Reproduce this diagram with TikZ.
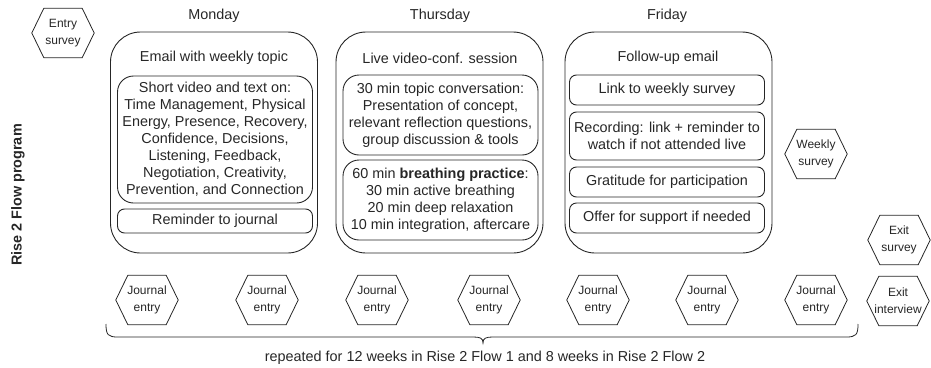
\documentclass[tikz,border=0pt]{standalone}
\usepackage{fontspec}
\setmainfont{Liberation Sans}
\usepackage{tikz}
\usetikzlibrary{positioning,calc}
\usepackage{xcolor}
\definecolor{ink}{HTML}{262626}
\newcommand{\bodysize}{\fontsize{14.4}{17}\selectfont}
\newcommand{\hexsize}{\fontsize{12}{17}\selectfont}
\tikzset{
  daybox/.style={draw=ink, rounded corners=30pt, line width=0.9pt, minimum width=207pt, minimum height=221pt, inner sep=0pt},
  topicbox/.style={draw=ink, rounded corners=16pt, line width=0.9pt, align=center, minimum width=195pt, inner sep=0pt, text=ink, font=\bodysize},
  itembox/.style={topicbox, rounded corners=7pt},
  plain/.style={text=ink, font=\bodysize, inner sep=0pt},
  hexbox/.style={minimum width=62pt, minimum height=49pt, inner sep=0pt, align=center, text=ink, font=\hexsize,
    append after command={\pgfextra{\draw[line width=0.8pt, draw=ink] (\tikzlastnode.west) -- ([xshift=12pt]\tikzlastnode.north west) -- ([xshift=-12pt]\tikzlastnode.north east) -- (\tikzlastnode.east) -- ([xshift=-12pt]\tikzlastnode.south east) -- ([xshift=12pt]\tikzlastnode.south west) -- cycle;}}}
}
\begin{document}
\begin{tikzpicture}[x=1pt, y=-1pt]
  \useasboundingbox (0,0) rectangle (931,367);
  % side label and surveys
  \node[plain, rotate=90, font=\bodysize\bfseries] (prog) at (18,195) {Rise 2 Flow program};
  \node[hexbox] (entry) at (63,33) {Entry\\survey};
  \node[hexbox] (weekly) at (816,154) {Weekly\\survey};
  \node[hexbox] (exits) at (899,240) {Exit\\survey};
  \node[hexbox] (exiti) at (898,301) {Exit\\interview};

  % Monday
  \node[plain] (mon) at (214,16) {Monday};
  \node[daybox] (monbox) at (214,142.5) {};
  \node[plain] (montitle) at (214,58) {Email with weekly topic};
  \node[topicbox, minimum height=127pt] (montopic) at (215,139.5) {Short video and text on:\\Time Management, Physical\\Energy, Presence, Recovery,\\Confidence, Decisions,\\Listening, Feedback,\\Negotiation, Creativity,\\Prevention, and Connection};
  \node[itembox, minimum height=24pt] (monjournal) at (215,221) {Reminder to journal};

  % Thursday
  \node[plain] (thu) at (440,16) {Thursday};
  \node[daybox] (thubox) at (439.5,142.5) {};
  \node[plain] (thutitle) at (440,58) {Live video-conf. session};
  \node[topicbox, minimum height=80pt] (thutalk) at (440.5,115) {30 min topic conversation:\\Presentation of concept,\\relevant reflection questions,\\group discussion \& tools};
  \node[topicbox, minimum height=80pt] (thubreath) at (440.5,200) {60 min \textbf{breathing practice}:\\30 min active breathing\\20 min deep relaxation\\10 min integration, aftercare};

  % Friday
  \node[plain] (fri) at (667,16) {Friday};
  \node[daybox] (fribox) at (668.5,142.5) {};
  \node[plain] (frititle) at (668,58) {Follow-up email};
  \node[itembox, minimum height=30pt] (frilink) at (667,90) {Link to weekly survey};
  \node[itembox, minimum height=48pt] (frirec) at (667,136) {Recording: link + reminder to\\watch if not attended live};
  \node[itembox, minimum height=30pt] (frithanks) at (667,182) {Gratitude for participation};
  \node[itembox, minimum height=30pt] (frisupport) at (667,218) {Offer for support if needed};

  % journal entries
  \foreach \x [count=\i] in {147,267,377,489,598,707,816}
    \node[hexbox] (j\i) at (\x,300) {Journal\\entry};

  % brace
  \coordinate (braceL) at (106,324);
  \coordinate (braceR) at (858,324);
  \coordinate (braceTip) at (483,343);
  \draw[line width=0.8pt, draw=ink] (braceL) .. controls (106,335) and (108,337) .. (118,337) -- (473,337) .. controls (480,337) and (483,338) .. (braceTip) .. controls (483,338) and (486,337) .. (493,337) -- (846,337) .. controls (856,337) and (858,335) .. (braceR);
  \node[plain] (repeat) at (485,358) {repeated for 12 weeks in Rise 2 Flow 1 and 8 weeks in Rise 2 Flow 2};
\end{tikzpicture}
\end{document}
